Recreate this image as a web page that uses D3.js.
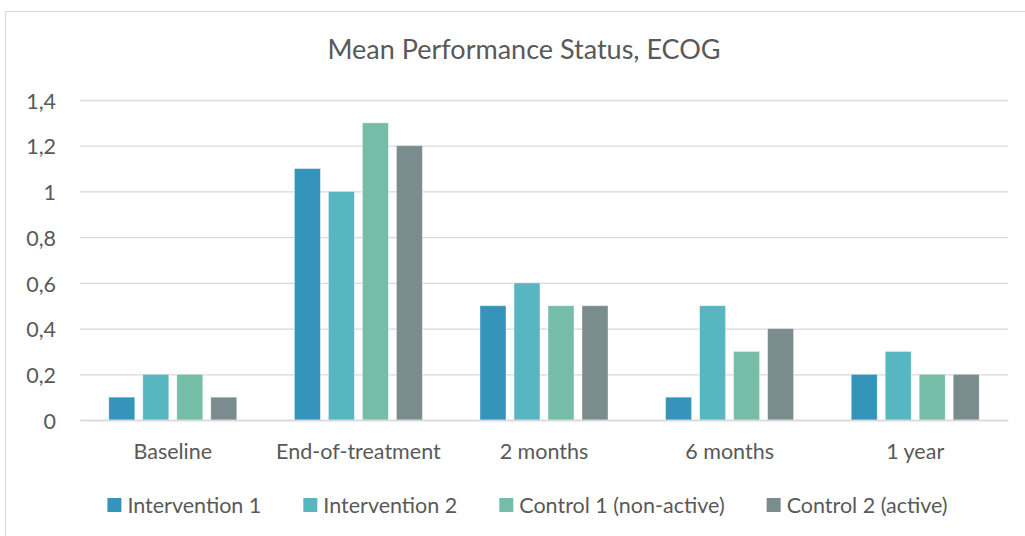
<!DOCTYPE html>
<html>
<head>
<meta charset="utf-8">
<script src="https://cdn.jsdelivr.net/npm/d3@7"></script>
<style>
  body { margin: 0; background: #fff; }
  svg text { font-family: Lato, "Noto Sans", sans-serif; fill: #595959; }
</style>
</head>
<body>
<svg id="chart" width="1025" height="536"></svg>
<script>
var categories = ["Baseline", "End-of-treatment", "2 months", "6 months", "1 year"];
var seriesNames = ["Intervention 1", "Intervention 2", "Control 1 (non-active)", "Control 2 (active)"];
var intervention1 = [0.1, 1.1, 0.5, 0.1, 0.2];
var intervention2 = [0.2, 1.0, 0.6, 0.5, 0.3];
var control1 = [0.2, 1.3, 0.5, 0.3, 0.2];
var control2 = [0.1, 1.2, 0.5, 0.4, 0.2];
var yTicks = [0, 0.2, 0.4, 0.6, 0.8, 1, 1.2, 1.4];
var colors = ["#3494BA", "#58B6C0", "#75BDA7", "#7A8C8E"];

var seriesValues = [intervention1, intervention2, control1, control2];

var svg = d3.select("#chart");
var margin = { left: 80, right: 1008, top: 100, bottom: 420 };
var labelSize = 21.5;

// chart area frame (only left and top edges fall inside the picture)
svg
  .append("rect")
  .attr("x", 5.5)
  .attr("y", 11.5)
  .attr("width", 1100)
  .attr("height", 700)
  .attr("fill", "none")
  .attr("stroke", "#D9D9D9")
  .attr("stroke-width", 1.2);

var x0 = d3.scaleBand().domain(categories).range([margin.left, margin.right]);
var x1 = d3
  .scaleBand()
  .domain(seriesNames)
  .range([-64, 64])
  .paddingInner(0.235);
var y = d3.scaleLinear().domain([0, 1.4]).range([margin.bottom, margin.top]);

var locale = d3.formatLocale({ decimal: ",", thousands: ".", grouping: [3], currency: ["", ""] });
var fmt = locale.format("~g");

// gridlines
var grid = svg
  .append("g")
  .attr("transform", "translate(" + margin.left + ",0)")
  .call(
    d3
      .axisLeft(y)
      .tickValues(yTicks)
      .tickSize(-(margin.right - margin.left))
      .tickFormat("")
  );
grid.select(".domain").remove();
grid.selectAll(".tick line").attr("stroke", "#D9D9D9").attr("stroke-width", 1.3);

// y labels
var yAxis = svg
  .append("g")
  .attr("transform", "translate(56,0)")
  .call(d3.axisLeft(y).tickValues(yTicks).tickSize(0).tickPadding(0).tickFormat(fmt));
yAxis.select(".domain").remove();
yAxis
  .selectAll("text")
  .attr("font-size", labelSize)
  .attr("dy", "0.38em")
  .style("font-family", null);

// bars
var groups = svg
  .append("g")
  .selectAll(".group")
  .data(categories)
  .enter()
  .append("g")
  .attr("class", "group")
  .attr("transform", function (d) {
    return "translate(" + (x0(d) + x0.bandwidth() / 2) + ",0)";
  });

groups
  .selectAll("rect")
  .data(function (d, i) {
    return seriesNames.map(function (s, j) {
      return { series: s, value: seriesValues[j][i], color: colors[j] };
    });
  })
  .enter()
  .append("rect")
  .attr("x", function (d) {
    return x1(d.series);
  })
  .attr("y", function (d) {
    return y(d.value);
  })
  .attr("width", x1.bandwidth())
  .attr("height", function (d) {
    return y(0) - y(d.value);
  })
  .attr("fill", function (d) {
    return d.color;
  })
  .attr("stroke", "#ffffff")
  .attr("stroke-opacity", 0.5)
  .attr("stroke-width", 0.8);

// x axis line + labels
var xAxis = svg
  .append("g")
  .attr("transform", "translate(0," + margin.bottom + ")")
  .call(d3.axisBottom(x0).tickSize(0).tickPadding(0));
xAxis.select(".domain").attr("stroke", "#D9D9D9").attr("stroke-width", 1.3);
xAxis
  .selectAll("text")
  .attr("font-size", labelSize)
  .attr("dy", null)
  .attr("y", 39)
  .style("font-family", null);

// title
svg
  .append("text")
  .attr("x", 524)
  .attr("y", 59)
  .attr("text-anchor", "middle")
  .attr("font-size", 27)
  .text("Mean Performance Status, ECOG");

// legend
var legend = svg.append("g").attr("class", "legend");
var items = legend
  .selectAll(".item")
  .data(seriesNames)
  .enter()
  .append("g")
  .attr("class", "item");
items
  .append("rect")
  .attr("width", 14)
  .attr("height", 14)
  .attr("y", -7)
  .attr("fill", function (d, i) {
    return colors[i];
  });
items
  .append("text")
  .attr("x", 20)
  .attr("dy", "0.36em")
  .attr("font-size", labelSize)
  .text(function (d) {
    return d;
  });

var pos = 0;
var itemGap = 42;
items.each(function () {
  var w = 20 + this.querySelector("text").getComputedTextLength();
  d3.select(this).attr("data-x", pos);
  pos += w + itemGap;
});
var totalW = pos - itemGap;
var startX = 527.5 - totalW / 2;
items.attr("transform", function () {
  return "translate(" + (startX + +this.getAttribute("data-x")) + ",505)";
});
</script>
</body>
</html>
